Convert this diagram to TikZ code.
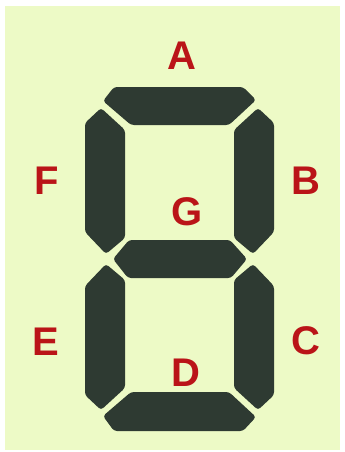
\documentclass[tikz,border=0pt]{standalone}
\usepackage{fontspec}
\setmainfont{Liberation Sans}
\definecolor{bgc}{HTML}{EDFAC6}
\definecolor{segc}{HTML}{2E3A32}
\definecolor{labc}{HTML}{BA1418}
\begin{document}
\begin{tikzpicture}[x=1pt,y=-1pt,
  seg/.style={fill=segc,rounded corners=3pt},
  lab/.style={text=labc,font=\fontsize{40}{40}\selectfont\bfseries,inner sep=0pt,anchor=center}]
\useasboundingbox (0,0) rectangle (345,452);
\fill[white] (0,0) rectangle (345,452);
\fill[bgc] (5,6) rectangle (340,450);
% segments
\fill[seg] (103,101) -- (114,87) -- (243,87) -- (256,100) -- (229,125) -- (131,125) -- cycle; % A
\fill[seg] (258,108) -- (274,123) -- (274,232) -- (253,254) -- (234,238) -- (234,130) -- cycle; % B
\fill[seg] (101,108) -- (85,123) -- (85,232) -- (106,254) -- (125,238) -- (125,130) -- cycle; % F
\fill[seg] (113,259) -- (129,240) -- (230,240) -- (247,259) -- (231,278) -- (128,278) -- cycle; % G
\fill[seg] (101,410) -- (85,395) -- (85,286) -- (106,264) -- (125,280) -- (125,388) -- cycle; % E
\fill[seg] (258,410) -- (274,395) -- (274,286) -- (253,264) -- (234,280) -- (234,388) -- cycle; % C
\fill[seg] (103,416) -- (114,431) -- (243,431) -- (256,417) -- (229,392) -- (131,392) -- cycle; % D
% labels
\node[lab] (la) at (182,56) {A};
\node[lab] (lf) at (47,181) {F};
\node[lab] (lb) at (306,181) {B};
\node[lab] (lg) at (187,212) {G};
\node[lab] (le) at (46,342) {E};
\node[lab] (lc) at (306,341) {C};
\node[lab] (ld) at (186,373) {D};
\end{tikzpicture}
\end{document}
